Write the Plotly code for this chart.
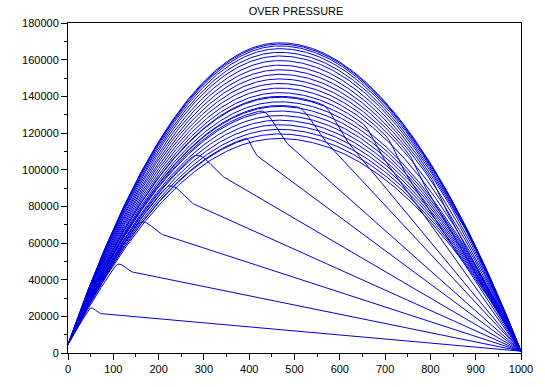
import numpy as np
import plotly.graph_objects as go

# ---- data ----
start_value = 4700.0      # value of every curve at x = 0
end_value = 1000.0        # value of every curve at x = 1000
peak_position = 470.0     # x of the arch maxima

# curves that are cut (vent) before the end
arch_peak = [106000, 112000, 124000, 125000, 128000, 120000, 133000, 135000,
             140000, 142000, 147000, 152000, 157000, 162000]
cap_start_x = [45, 103, 150, 213, 272, 392, 425, 505, 560, 650, 700, 750, 800, 860]
drop_end_x = [72, 142, 210, 280, 346, 418, 485, 570, 621, 700, 745, 790, 835, 890]
drop_end_y = [21500, 44200, 64500, 81000, 95700, 107500, 114000, 115000,
              114000, 105000, 98000, 90000, 78000, 62000]

# curves that stay whole to the end
full_arch_peak = [117000, 119500, 122000, 124500, 127000, 129500, 132000, 134500,
                  137000, 139500, 144500, 149500, 154500, 159500, 164000, 166000,
                  167500, 168500, 169200]

x_axis_ticks = list(range(0, 1001, 100))
y_axis_ticks = list(range(0, 180001, 20000))

# ---- construction ----
L = 1000.0
c = peak_position / L


def arch(x, P):
    s = np.asarray(x, dtype=float) / L
    base = start_value + (end_value - start_value) * s
    base_c = start_value + (end_value - start_value) * c
    h = np.where(s < c, 1 - ((c - s) / c) ** 2, 1 - ((s - c) / (1 - c)) ** 2)
    return base + (P - base_c) * h


def arch_slope(x, P, d=0.5):
    return (arch(x + d, P) - arch(x - d, P)) / (2 * d)


fig = go.Figure()
line_style = dict(color="#0000dd", width=1)

xs = np.linspace(0, L, 501)
for P in full_arch_peak:
    fig.add_trace(go.Scatter(x=xs, y=arch(xs, P), mode="lines", line=line_style,
                             hoverinfo="skip"))

for P, xa, xd, yd in zip(arch_peak, cap_start_x, drop_end_x, drop_end_y):
    x1 = np.linspace(0, xa, 200)
    y1 = arch(x1, P)
    p0 = float(arch(xa, P))
    m0 = float(arch_slope(xa, P)) * (xd - xa)
    m1 = (end_value - yd) / (L - xd) * (xd - xa)
    t = np.linspace(0, 1, 40)
    h00 = 2 * t**3 - 3 * t**2 + 1
    h10 = t**3 - 2 * t**2 + t
    h01 = -2 * t**3 + 3 * t**2
    h11 = t**3 - t**2
    x2 = xa + t * (xd - xa)
    y2 = h00 * p0 + h10 * m0 + h01 * yd + h11 * m1
    x3 = np.array([xd, L])
    y3 = np.array([yd, end_value])
    fig.add_trace(go.Scatter(x=np.concatenate([x1, x2, x3]),
                             y=np.concatenate([y1, y2, y3]),
                             mode="lines", line=line_style, hoverinfo="skip"))

axis_common = dict(showgrid=False, zeroline=False, showline=True, linecolor="black",
                   linewidth=1, mirror=True, ticks="outside", tickcolor="black",
                   tickwidth=1, ticklen=6, tickformat="d",
                   tickfont=dict(family="Liberation Sans, Arial, sans-serif",
                                 size=11, color="black"))

fig.update_xaxes(range=[0, 1000], tickvals=x_axis_ticks,
                 minor=dict(ticks="outside", ticklen=3, dtick=50, tickcolor="black"),
                 **axis_common)
fig.update_yaxes(range=[0, 180000], tickvals=y_axis_ticks,
                 minor=dict(ticks="outside", ticklen=3, dtick=10000, tickcolor="black"),
                 **axis_common)

fig.update_layout(
    width=545, height=387,
    margin=dict(l=68, r=23, t=23, b=18),
    plot_bgcolor="white", paper_bgcolor="white",
    showlegend=False,
    title=dict(text="OVER PRESSURE", x=296 / 545, xanchor="center",
               y=1 - 11 / 387, yanchor="middle", yref="container",
               font=dict(family="Liberation Sans Narrow, Liberation Sans, sans-serif",
                         size=11, color="black")),
)

fig.write_html("out.html")
